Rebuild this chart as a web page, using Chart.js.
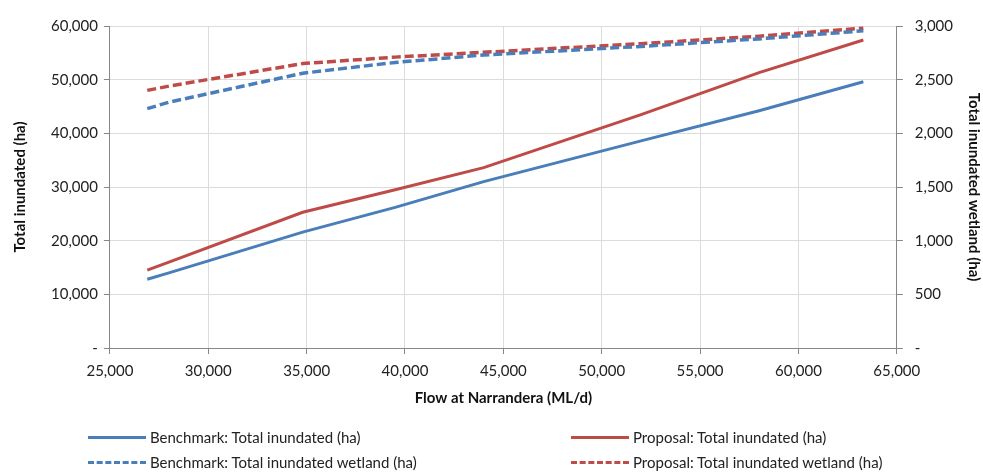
<!DOCTYPE html>
<html>
<head>
<meta charset="utf-8">
<script src="https://cdn.jsdelivr.net/npm/chart.js@4.4.0/dist/chart.umd.min.js"></script>
<style>
  html, body { margin: 0; padding: 0; background: #fff; }
  #wrap { position: relative; width: 983px; height: 472px; }
  #chart { position: absolute; left: 0; top: 0; }
  .legend { position: absolute; font-family: Lato, "Open Sans", sans-serif; font-size: 15px; color: #222; }
  .item { position: absolute; white-space: nowrap; display: flex; align-items: center; }
  .sample { display: inline-block; width: 58px; height: 0; margin-right: 4px; }
</style>
</head>
<body>
<div id="wrap">
  <canvas id="chart" width="983" height="472"></canvas>
  <div class="legend" id="legend"></div>
</div>
<script>
// Datos
const flows = [26900, 28000, 34800, 39500, 44000, 52000, 58000, 63300];
const benchmarkTotal = [12800, 14000, 21600, 26200, 31000, 38600, 44200, 49600];
const proposalTotal = [14500, 16000, 25300, 29500, 33600, 43500, 51300, 57400];
const benchmarkWetland = [2230, 2290, 2560, 2660, 2730, 2810, 2880, 2955];
const proposalWetland = [2400, 2440, 2650, 2710, 2755, 2835, 2905, 2980];

const seriesLabels = [
    'Benchmark: Total inundated (ha)',
    'Proposal: Total inundated (ha)',
    'Benchmark: Total inundated wetland (ha)',
    'Proposal: Total inundated wetland (ha)'
];

const BLUE = '#4a7ebb';
const RED = '#be4b48';
const FONT = 'Lato, "Open Sans", sans-serif';

function toPoints(values) {
    return values.map((v, i) => ({ x: flows[i], y: v }));
}

function fmt(value) {
    if (value === 0) return '-';
    return value.toLocaleString('en-US');
}

const datasets = [
    { label: seriesLabels[0], data: toPoints(benchmarkTotal), borderColor: BLUE, yAxisID: 'y', borderDash: [], borderWidth: 3 },
    { label: seriesLabels[1], data: toPoints(proposalTotal), borderColor: RED, yAxisID: 'y', borderDash: [], borderWidth: 3 },
    { label: seriesLabels[2], data: toPoints(benchmarkWetland), borderColor: BLUE, yAxisID: 'y2', borderDash: [9, 4], borderWidth: 3.5 },
    { label: seriesLabels[3], data: toPoints(proposalWetland), borderColor: RED, yAxisID: 'y2', borderDash: [9, 4], borderWidth: 3.5 }
].map(d => Object.assign(d, {
    pointRadius: 0,
    fill: false,
    tension: 0,
    showLine: true,
    backgroundColor: d.borderColor
}));

const gridStyle = {
    color: '#dcdcdc',
    borderDash: [4, 4],
    tickColor: '#868686',
    tickBorderDash: [],
    tickLength: 6,
    lineWidth: 1
};

new Chart(document.getElementById('chart'), {
    type: 'scatter',
    data: { datasets: datasets },
    options: {
        responsive: false,
        animation: false,
        layout: { padding: { left: 11, right: 0, top: 26, bottom: 65 } },
        plugins: {
            legend: { display: false },
            tooltip: { enabled: false }
        },
        scales: {
            x: {
                type: 'linear',
                min: 25000,
                max: 65000,
                ticks: {
                    stepSize: 5000,
                    callback: fmt,
                    color: '#222',
                    font: { family: FONT, size: 15 },
                    padding: 8,
                    maxRotation: 0
                },
                grid: gridStyle,
                border: { display: true, color: '#868686', width: 1 },
                title: {
                    display: true,
                    text: 'Flow at Narrandera (ML/d)',
                    color: '#111',
                    font: { family: FONT, size: 15, weight: 'bold' },
                    padding: { top: 1, bottom: 0 }
                }
            },
            y: {
                position: 'left',
                min: 0,
                max: 60000,
                ticks: {
                    stepSize: 10000,
                    callback: fmt,
                    color: '#222',
                    font: { family: FONT, size: 15 },
                    padding: 6
                },
                grid: gridStyle,
                border: { display: true, color: '#868686', width: 1 },
                title: {
                    display: true,
                    text: 'Total inundated (ha)',
                    color: '#111',
                    font: { family: FONT, size: 15, weight: 'bold' },
                    padding: { top: 0, bottom: 16 }
                }
            },
            y2: {
                position: 'right',
                min: 0,
                max: 3000,
                ticks: {
                    stepSize: 500,
                    callback: fmt,
                    color: '#222',
                    font: { family: FONT, size: 15 },
                    padding: 12
                },
                grid: Object.assign({}, gridStyle, { drawOnChartArea: false }),
                border: { display: true, color: '#868686', width: 1 },
                title: {
                    display: true,
                    text: 'Total inundated wetland (ha)',
                    color: '#111',
                    font: { family: FONT, size: 15, weight: 'bold' },
                    padding: { top: 0, bottom: 0 }
                }
            }
        }
    }
});

// Leyenda en dos columnas
const legendPos = [
    { left: 88, top: 428 },
    { left: 571, top: 428 },
    { left: 88, top: 453 },
    { left: 571, top: 453 }
];
const legendEl = document.getElementById('legend');
datasets.forEach((d, i) => {
    const item = document.createElement('div');
    item.className = 'item';
    item.style.left = legendPos[i].left + 'px';
    item.style.top = legendPos[i].top + 'px';
    const sample = document.createElement('span');
    sample.className = 'sample';
    const style = d.borderDash.length ? 'dashed' : 'solid';
    sample.style.borderTop = '3px ' + style + ' ' + d.borderColor;
    item.appendChild(sample);
    item.appendChild(document.createTextNode(d.label));
    legendEl.appendChild(item);
});
</script>
</body>
</html>
